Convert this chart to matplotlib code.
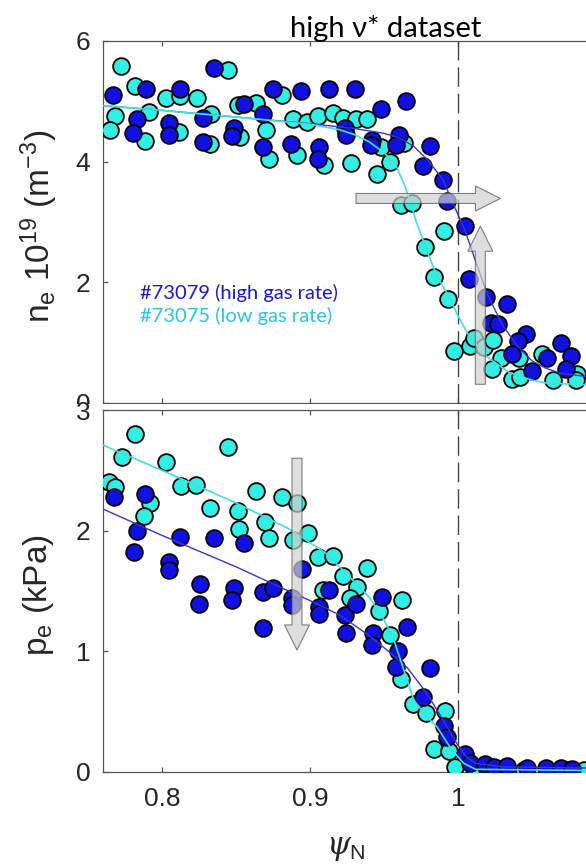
import numpy as np
import matplotlib
matplotlib.use("Agg")
import matplotlib.pyplot as plt
from matplotlib.patches import Rectangle

# ========== CONFIG ==========

plt.rcParams['font.family'] = ['Liberation Sans', 'DejaVu Sans']
plt.rcParams['mathtext.fontset'] = 'custom'
plt.rcParams['mathtext.rm'] = 'Liberation Sans'
plt.rcParams['mathtext.sf'] = 'Liberation Sans'
plt.rcParams['mathtext.it'] = 'DejaVu Serif:italic'

BLUE = '#1010E2'
CYAN = '#30F0E4'
BLUE_LINE = '#3838CC'
CYAN_LINE = '#40E2DA'
BLUE_TEXT = '#1A1ACC'
CYAN_TEXT = '#2BC4E8'
AX_COLOR = '#555555'
ANNOT_FONT = ['Lato', 'DejaVu Sans']

# ========== DATA ==========

# top panel: n_e, #73075 (low gas rate)
ne_low_x = [0.7725, 0.7686, 0.7646, 0.782, 0.7912, 0.7883, 0.8025, 0.8125, 0.8237, 0.8115,
            0.8335, 0.8328, 0.8447, 0.8511, 0.8633, 0.8527, 0.8703, 0.8723, 0.8813, 0.8883,
            0.8982, 0.891, 0.9057, 0.9154, 0.9098, 0.9222, 0.9312, 0.9385, 0.948, 0.9638,
            0.9277, 0.9453, 0.9543, 0.9615, 0.969, 0.9904, 0.978, 0.9836, 0.9934, 0.9976,
            1.008, 1.0112, 1.0175, 1.0238, 1.0293, 1.0232, 1.0412, 1.0367, 1.0419, 1.057,
            1.0645, 1.0803, 1.0796]
ne_low_y = [5.59, 4.75, 4.53, 5.25, 4.83, 4.35, 5.06, 5.09, 5.06, 4.49,
            4.79, 4.29, 5.52, 4.94, 4.98, 4.41, 4.53, 4.04, 5.11, 4.70,
            4.66, 4.11, 4.76, 4.80, 3.94, 4.73, 4.70, 4.70, 4.25, 4.31,
            3.97, 3.80, 4.00, 3.28, 3.31, 2.85, 2.59, 2.09, 1.73, 0.87,
            0.95, 1.08, 0.93, 1.05, 0.75, 0.57, 0.74, 0.40, 0.43, 0.81,
            0.38, 0.48, 0.38]

# top panel: n_e, #73079 (high gas rate)
ne_high_x = [0.767, 0.7894, 0.7833, 0.7804, 0.8125, 0.8045, 0.8045, 0.8278, 0.8278, 0.8352,
             0.8556, 0.8488, 0.8477, 0.8684, 0.8684, 0.8748, 0.894, 0.8874, 0.913, 0.9064,
             0.9057, 0.9306, 0.9651, 0.9482, 0.9238, 0.9245, 0.9419, 0.9412, 0.96, 0.9583,
             0.9813, 0.9764, 0.9897, 0.9927, 1.0046, 1.0073, 1.0191, 1.0329, 1.0227, 1.0272,
             1.0464, 1.0405, 1.0367, 1.0503, 1.06, 1.0694, 1.0767, 1.0728]
ne_high_y = [5.11, 5.21, 4.70, 4.48, 5.21, 4.64, 4.44, 4.72, 4.33, 5.56,
             4.96, 4.55, 4.42, 4.79, 4.25, 5.20, 5.17, 4.29, 5.20, 4.25,
             4.05, 5.21, 5.00, 4.87, 4.55, 4.44, 4.36, 4.27, 4.44, 4.27,
             4.26, 3.93, 3.70, 3.35, 2.94, 2.05, 1.76, 1.64, 1.32, 1.31,
             1.15, 1.03, 0.81, 0.53, 0.75, 1.00, 0.78, 0.57]

# top panel fits
ne_high_fit_x = [0.76, 0.80, 0.85, 0.90, 0.93, 0.95, 0.96, 0.97, 0.98, 0.99,
                 0.996, 1.005, 1.012, 1.02, 1.03, 1.04, 1.05, 1.06, 1.07, 1.09]
ne_high_fit_y = [4.93, 4.85, 4.74, 4.63, 4.55, 4.47, 4.40, 4.26, 4.02, 3.70,
                 3.35, 2.85, 2.35, 1.80, 1.30, 0.95, 0.70, 0.57, 0.49, 0.43]
ne_low_fit_x = [0.76, 0.80, 0.85, 0.90, 0.92, 0.93, 0.94, 0.95, 0.958, 0.965,
                0.972, 0.979, 0.986, 0.994, 1.0, 1.008, 1.02, 1.035, 1.05, 1.06, 1.09]
ne_low_fit_y = [4.93, 4.85, 4.74, 4.62, 4.53, 4.45, 4.33, 4.15, 3.95, 3.55,
                3.00, 2.53, 2.10, 1.76, 1.45, 1.09, 0.76, 0.50, 0.38, 0.33, 0.30]

# bottom panel: p_e, #73075 (low gas rate)
pe_low_x = [0.7815, 0.7729, 0.7641, 0.7686, 0.8025, 0.8131, 0.8233, 0.7917, 0.7878, 0.8447,
            0.8328, 0.8515, 0.8522, 0.8633, 0.8700, 0.8723, 0.8813, 0.891, 0.8883, 0.8985,
            0.9057, 0.9154, 0.9091, 0.9226, 0.9389, 0.9317, 0.9272, 0.9622, 0.947, 0.9543,
            0.9617, 0.9694, 0.9787, 0.9915, 0.9836, 0.9938, 0.9983, 1.0107, 1.02, 1.03,
            1.045, 1.06, 1.075, 1.085]
pe_low_y = [2.80, 2.61, 2.40, 2.36, 2.57, 2.37, 2.38, 2.23, 2.12, 2.69,
            2.19, 2.16, 2.01, 2.33, 2.07, 1.94, 2.28, 2.23, 1.92, 1.98,
            1.78, 1.79, 1.51, 1.62, 1.69, 1.53, 1.44, 1.42, 1.33, 1.13,
            0.77, 0.56, 0.49, 0.50, 0.19, 0.17, 0.04, 0.03, 0.02, 0.02,
            0.01, 0.01, 0.01, 0.01]

# bottom panel: p_e, #73079 (high gas rate)
pe_high_x = [0.7675, 0.7888, 0.7831, 0.781, 0.812, 0.8047, 0.8047, 0.8255, 0.8251, 0.8352,
             0.8553, 0.8488, 0.8477, 0.868, 0.8752, 0.8684, 0.8877, 0.8877, 0.8944, 0.9131,
             0.9064, 0.9064, 0.9238, 0.9245, 0.9313, 0.943, 0.9419, 0.9486, 0.9656, 0.9599,
             0.9583, 0.9814, 0.9768, 0.9904, 0.9927, 1.0051, 1.0085, 1.0186, 1.0243, 1.0333,
             1.0469, 1.0593, 1.0694, 1.0774]
pe_high_y = [2.28, 2.30, 2.00, 1.82, 1.95, 1.74, 1.67, 1.56, 1.39, 1.94,
             1.90, 1.52, 1.42, 1.49, 1.52, 1.19, 1.44, 1.38, 1.68, 1.51,
             1.37, 1.31, 1.30, 1.15, 1.39, 1.15, 1.05, 1.45, 1.20, 1.00,
             0.87, 0.86, 0.62, 0.38, 0.29, 0.15, 0.07, 0.06, 0.04, 0.05,
             0.03, 0.03, 0.03, 0.02]

# bottom panel fits
pe_high_fit_x = [0.76, 0.80, 0.85, 0.88, 0.90, 0.92, 0.94, 0.955, 0.966, 0.979,
                 0.99, 1.0, 1.006, 1.012, 1.03, 1.09]
pe_high_fit_y = [2.18, 1.96, 1.70, 1.53, 1.42, 1.30, 1.13, 0.98, 0.86, 0.65,
                 0.43, 0.22, 0.12, 0.07, 0.04, 0.03]
pe_low_fit_x = [0.76, 0.80, 0.85, 0.885, 0.91, 0.925, 0.94, 0.95, 0.956, 0.962,
                0.97, 0.978, 0.986, 0.996, 1.004, 1.012, 1.09]
pe_low_fit_y = [2.71, 2.50, 2.23, 2.02, 1.82, 1.64, 1.45, 1.26, 1.12, 0.90,
                0.60, 0.47, 0.37, 0.18, 0.07, 0.02, 0.01]

XLIM = (0.76, 1.09)
XTICKS = [0.8, 0.9, 1.0]
XTICKLABELS = ['0.8', '0.9', '1']
NE_YTICKS = [0, 2, 4, 6]
PE_YTICKS = [0, 1, 2, 3]

# ========== HELPERS ==========

def style_axes(ax):
    # MATLAB-like box with inward ticks on every side
    for sp in ax.spines.values():
        sp.set_color(AX_COLOR)
        sp.set_linewidth(0.9)
    ax.tick_params(direction='in', length=3.6, width=0.9, color=AX_COLOR,
                   top=True, right=True, labelsize=19, labelcolor='#262626')
    ax.tick_params(axis='y', pad=9)
    ax.tick_params(axis='x', pad=11)
    ax.set_xlim(*XLIM)
    ax.set_xticks(XTICKS)


def block_arrow(ax, tail, tip):
    # translucent grey block arrow
    ax.annotate('', xy=tip, xytext=tail, zorder=6,
                arrowprops=dict(arrowstyle='simple,head_length=1.8,head_width=1.8,tail_width=0.72',
                                mutation_scale=10, shrinkA=0, shrinkB=0,
                                facecolor='#D0D0D0', edgecolor='#505050',
                                linewidth=0.8, alpha=0.7))


def draw_panel(ax, low_x, low_y, high_x, high_y, lfx, lfy, hfx, hfy):
    ax.scatter(low_x, low_y, s=145, c=CYAN, edgecolors='black', linewidths=1.3, zorder=3)
    ax.scatter(high_x, high_y, s=145, c=BLUE, edgecolors='black', linewidths=1.3, zorder=3)
    ax.plot(hfx, hfy, color=BLUE_LINE, lw=1.0, zorder=4)
    ax.plot(lfx, lfy, color=CYAN_LINE, lw=1.2, zorder=4)
    ax.axvline(1.0, color='#444444', lw=1.0, dashes=(14, 5), zorder=2)


# ========== FIGURE ==========

fig = plt.figure(figsize=(5.86, 8.67), dpi=100)
W, H = 586.0, 867.0
left, right = 102.7, 591.0

ax_ne = fig.add_axes([left / W, 1 - 403 / H, (right - left) / W, (403 - 41) / H])
ax_pe = fig.add_axes([left / W, 1 - 771.7 / H, (right - left) / W, (771.7 - 410) / H])
ax_ne.set_zorder(0)
ax_pe.set_zorder(2)

# white strip that hides the lower half of the top panel's "0" label
fig.patches.append(Rectangle((0, 0), 1, 1 - 404 / H, transform=fig.transFigure,
                             facecolor='white', edgecolor='none', zorder=1))

# ---- top: density ----
draw_panel(ax_ne, ne_low_x, ne_low_y, ne_high_x, ne_high_y,
           ne_low_fit_x, ne_low_fit_y, ne_high_fit_x, ne_high_fit_y)
style_axes(ax_ne)
ax_ne.set_ylim(0, 6)
ax_ne.set_yticks(NE_YTICKS)
ax_ne.set_xticklabels([])
ax_ne.text(0.7849, 1.82, '#73079 (high gas rate)', color=BLUE_TEXT, fontsize=14.5,
           family=ANNOT_FONT, va='center', ha='left', zorder=7)
ax_ne.text(0.7849, 1.45, '#73075 (low gas rate)', color=CYAN_TEXT, fontsize=14.5,
           family=ANNOT_FONT, va='center', ha='left', zorder=7)
block_arrow(ax_ne, (0.9312, 3.39), (1.0288, 3.39))
block_arrow(ax_ne, (1.0152, 0.31), (1.0152, 2.93))

# ---- bottom: pressure ----
draw_panel(ax_pe, pe_low_x, pe_low_y, pe_high_x, pe_high_y,
           pe_low_fit_x, pe_low_fit_y, pe_high_fit_x, pe_high_fit_y)
style_axes(ax_pe)
ax_pe.set_ylim(0, 3)
ax_pe.set_yticks(PE_YTICKS)
ax_pe.set_xticklabels(XTICKLABELS)
block_arrow(ax_pe, (0.8913, 2.60), (0.8913, 1.01))

# ---- labels ----
fig.text(39 / W, 1 - 226 / H, r'n$_{\mathrm{e}}$ 10$^{\mathrm{19}}$ (m$^{\mathrm{-3}}$)',
         rotation=90, ha='center', va='center', fontsize=24, color='#262626')
fig.text(39 / W, 1 - 595 / H, r'p$_{\mathrm{e}}$ (kPa)',
         rotation=90, ha='center', va='center', fontsize=24, color='#262626')
fig.text(346 / W, 1 - 848 / H, r'$\psi_{\mathrm{N}}$', ha='center', va='center',
         fontsize=22, color='#262626')
fig.text(386 / W, 1 - 28 / H, 'high ν* dataset', ha='center', va='center',
         fontsize=21, family=ANNOT_FONT, color='black')

fig.savefig('out.png', dpi=100)
